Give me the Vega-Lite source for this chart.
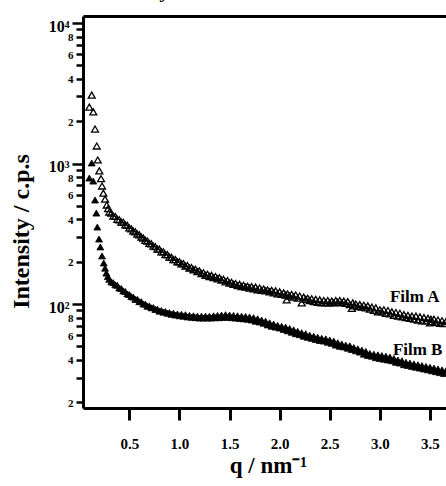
{
  "$schema": "https://vega.github.io/schema/vega-lite/v6.json",
  "width": 363,
  "height": 392,
  "autosize": "none",
  "padding": {"left": 83, "top": 16, "right": 0, "bottom": 78},
  "background": "white",
  "config": {"view": {"stroke": null}, "font": "Liberation Serif"},
  "title": {"text": "about monolayer.", "anchor": "start", "frame": "group", "dx": -43, "dy": 5, "offset": 2, "font": "Liberation Serif", "fontSize": 22, "fontStyle": "italic", "fontWeight": "normal", "color": "black", "baseline": "alphabetic"},
  "datasets": {
    "filmA": [
      {"q":0.101,"I":2520},{"q":0.125,"I":3070},{"q":0.141,"I":2330},{"q":0.158,"I":1760},{"q":0.175,"I":1333},{"q":0.185,"I":1060},{"q":0.201,"I":886},{"q":0.218,"I":780},{"q":0.228,"I":692},{"q":0.241,"I":616},{"q":0.258,"I":558},{"q":0.275,"I":507},{"q":0.288,"I":478},
      {"q":0.30,"I":452},{"q":0.32,"I":444},{"q":0.34,"I":422},{"q":0.36,"I":420},{"q":0.38,"I":401},{"q":0.40,"I":398},{"q":0.42,"I":383},{"q":0.44,"I":382},{"q":0.46,"I":366},{"q":0.48,"I":363},
      {"q":0.50,"I":348},{"q":0.52,"I":343},{"q":0.54,"I":331},{"q":0.56,"I":327},{"q":0.58,"I":315},{"q":0.60,"I":311},{"q":0.62,"I":300},{"q":0.64,"I":295},{"q":0.66,"I":284},{"q":0.68,"I":281},
      {"q":0.70,"I":270},{"q":0.72,"I":268},{"q":0.74,"I":258},{"q":0.76,"I":256},{"q":0.78,"I":246},{"q":0.80,"I":246},{"q":0.82,"I":235},{"q":0.84,"I":235},{"q":0.86,"I":225},{"q":0.88,"I":225},
      {"q":0.90,"I":216},{"q":0.92,"I":215},{"q":0.94,"I":207},{"q":0.96,"I":207},{"q":0.98,"I":200},{"q":1.00,"I":200},{"q":1.02,"I":193},{"q":1.04,"I":194},{"q":1.06,"I":186},{"q":1.08,"I":188},
      {"q":1.10,"I":180},{"q":1.12,"I":182},{"q":1.14,"I":175},{"q":1.16,"I":177},{"q":1.18,"I":170},{"q":1.20,"I":172},{"q":1.22,"I":165},{"q":1.24,"I":167},{"q":1.26,"I":160},{"q":1.28,"I":163},
      {"q":1.30,"I":157},{"q":1.32,"I":160},{"q":1.34,"I":154},{"q":1.36,"I":157},{"q":1.38,"I":151},{"q":1.40,"I":154},{"q":1.42,"I":148},{"q":1.44,"I":150},{"q":1.46,"I":144},{"q":1.48,"I":147},
      {"q":1.50,"I":141},{"q":1.52,"I":143},{"q":1.54,"I":138},{"q":1.56,"I":140},{"q":1.58,"I":135},{"q":1.60,"I":138},{"q":1.62,"I":133},{"q":1.64,"I":136},{"q":1.66,"I":132},{"q":1.68,"I":134},
      {"q":1.70,"I":130},{"q":1.72,"I":133},{"q":1.74,"I":128},{"q":1.76,"I":132},{"q":1.78,"I":126},{"q":1.80,"I":130},{"q":1.82,"I":125},{"q":1.84,"I":128},{"q":1.86,"I":124},{"q":1.88,"I":126},
      {"q":1.90,"I":122},{"q":1.92,"I":125},{"q":1.94,"I":120},{"q":1.96,"I":124},{"q":1.98,"I":118},{"q":2.00,"I":122},{"q":2.02,"I":117},{"q":2.04,"I":120},{"q":2.06,"I":116},{"q":2.07,"I":107},{"q":2.08,"I":118},
      {"q":2.10,"I":114},{"q":2.12,"I":117},{"q":2.14,"I":112},{"q":2.16,"I":116},{"q":2.18,"I":110},{"q":2.20,"I":114},{"q":2.22,"I":102},{"q":2.24,"I":112},{"q":2.26,"I":108},{"q":2.28,"I":110},
      {"q":2.30,"I":106},{"q":2.32,"I":109},{"q":2.34,"I":104},{"q":2.36,"I":108},{"q":2.38,"I":103},{"q":2.40,"I":107},{"q":2.42,"I":102},{"q":2.44,"I":106},{"q":2.46,"I":102},{"q":2.48,"I":106},
      {"q":2.50,"I":102},{"q":2.52,"I":105},{"q":2.54,"I":102},{"q":2.56,"I":106},{"q":2.58,"I":103},{"q":2.60,"I":106},{"q":2.62,"I":102},{"q":2.64,"I":105},{"q":2.66,"I":101},{"q":2.68,"I":104},
      {"q":2.70,"I":99},{"q":2.72,"I":93},{"q":2.73,"I":102},{"q":2.74,"I":97},{"q":2.76,"I":100},{"q":2.78,"I":96},{"q":2.80,"I":99},{"q":2.82,"I":95},{"q":2.84,"I":98},{"q":2.86,"I":94},{"q":2.88,"I":97},
      {"q":2.90,"I":92},{"q":2.92,"I":95},{"q":2.94,"I":90},{"q":2.96,"I":94},{"q":2.98,"I":88},{"q":3.00,"I":91},{"q":3.02,"I":88},{"q":3.04,"I":91},{"q":3.06,"I":86},{"q":3.08,"I":90},
      {"q":3.10,"I":85},{"q":3.12,"I":88},{"q":3.14,"I":83},{"q":3.16,"I":87},{"q":3.18,"I":82},{"q":3.20,"I":86},{"q":3.22,"I":81},{"q":3.24,"I":84},{"q":3.26,"I":80},{"q":3.28,"I":83},
      {"q":3.30,"I":79},{"q":3.32,"I":82},{"q":3.34,"I":78},{"q":3.36,"I":82},{"q":3.38,"I":77},{"q":3.40,"I":81},{"q":3.42,"I":76},{"q":3.44,"I":80},{"q":3.46,"I":76},{"q":3.48,"I":79},
      {"q":3.50,"I":73.5},{"q":3.51,"I":78},{"q":3.52,"I":75},{"q":3.54,"I":78},{"q":3.56,"I":74},{"q":3.58,"I":77},{"q":3.60,"I":73},{"q":3.62,"I":76},{"q":3.64,"I":72.5},{"q":3.66,"I":75}
    ],
    "filmB": [
      {"q":0.101,"I":788},{"q":0.125,"I":1009},{"q":0.140,"I":750},{"q":0.158,"I":550},{"q":0.171,"I":444},{"q":0.181,"I":353},{"q":0.198,"I":290},{"q":0.211,"I":255},{"q":0.228,"I":220},{"q":0.245,"I":196},{"q":0.258,"I":180},{"q":0.271,"I":166},{"q":0.285,"I":157},
      {"q":0.30,"I":150},{"q":0.32,"I":144},{"q":0.34,"I":142},{"q":0.36,"I":137},{"q":0.38,"I":136},{"q":0.40,"I":130},{"q":0.42,"I":129},{"q":0.44,"I":124},{"q":0.46,"I":123},{"q":0.48,"I":118},
      {"q":0.50,"I":117},{"q":0.52,"I":113},{"q":0.54,"I":112},{"q":0.56,"I":108},{"q":0.58,"I":108},{"q":0.60,"I":104},{"q":0.62,"I":104},{"q":0.64,"I":100},{"q":0.66,"I":100},{"q":0.68,"I":96.5},
      {"q":0.70,"I":97},{"q":0.72,"I":94},{"q":0.74,"I":94.5},{"q":0.76,"I":91.5},{"q":0.78,"I":92},{"q":0.80,"I":89},{"q":0.82,"I":90},{"q":0.84,"I":87.5},{"q":0.86,"I":88.5},{"q":0.88,"I":86},
      {"q":0.90,"I":87},{"q":0.92,"I":84.5},{"q":0.94,"I":86},{"q":0.96,"I":83.5},{"q":0.98,"I":85},{"q":1.00,"I":82.5},{"q":1.02,"I":84.5},{"q":1.04,"I":82},{"q":1.06,"I":84},{"q":1.08,"I":81},
      {"q":1.10,"I":83},{"q":1.12,"I":80.5},{"q":1.14,"I":82.5},{"q":1.16,"I":80},{"q":1.18,"I":82},{"q":1.20,"I":79.5},{"q":1.22,"I":82},{"q":1.24,"I":79.5},{"q":1.26,"I":82},{"q":1.28,"I":79.5},
      {"q":1.30,"I":82},{"q":1.32,"I":79.5},{"q":1.34,"I":82.5},{"q":1.36,"I":80},{"q":1.38,"I":83},{"q":1.40,"I":80},{"q":1.42,"I":83.5},{"q":1.44,"I":80.5},{"q":1.46,"I":84},{"q":1.48,"I":80.5},
      {"q":1.50,"I":83.5},{"q":1.52,"I":80},{"q":1.54,"I":83},{"q":1.56,"I":79.5},{"q":1.58,"I":82.5},{"q":1.60,"I":79},{"q":1.62,"I":82},{"q":1.64,"I":78.5},{"q":1.66,"I":81.5},{"q":1.68,"I":78},
      {"q":1.70,"I":81},{"q":1.72,"I":77},{"q":1.74,"I":80},{"q":1.76,"I":75.5},{"q":1.78,"I":78.5},{"q":1.80,"I":74.5},{"q":1.82,"I":77},{"q":1.84,"I":73},{"q":1.86,"I":75.5},{"q":1.88,"I":71},
      {"q":1.90,"I":73.5},{"q":1.92,"I":69.5},{"q":1.94,"I":72},{"q":1.96,"I":68.5},{"q":1.98,"I":70.5},{"q":2.00,"I":67.5},{"q":2.02,"I":69.5},{"q":2.04,"I":66},{"q":2.06,"I":68.5},{"q":2.08,"I":64.5},
      {"q":2.10,"I":67},{"q":2.12,"I":63},{"q":2.14,"I":65.5},{"q":2.16,"I":61.5},{"q":2.18,"I":64},{"q":2.20,"I":60.5},{"q":2.22,"I":62.5},{"q":2.24,"I":59},{"q":2.26,"I":61.5},{"q":2.28,"I":58},
      {"q":2.30,"I":60},{"q":2.32,"I":57},{"q":2.34,"I":59},{"q":2.36,"I":56},{"q":2.38,"I":58},{"q":2.40,"I":55},{"q":2.42,"I":57},{"q":2.44,"I":54.5},{"q":2.46,"I":56.5},{"q":2.48,"I":53.5},
      {"q":2.50,"I":55.5},{"q":2.52,"I":52.5},{"q":2.54,"I":54.5},{"q":2.56,"I":51},{"q":2.58,"I":53},{"q":2.60,"I":50},{"q":2.62,"I":52},{"q":2.64,"I":49.5},{"q":2.66,"I":51},{"q":2.68,"I":48.5},
      {"q":2.70,"I":50.5},{"q":2.72,"I":47.5},{"q":2.74,"I":49},{"q":2.76,"I":46.5},{"q":2.78,"I":48},{"q":2.80,"I":45.5},{"q":2.82,"I":47},{"q":2.84,"I":44},{"q":2.86,"I":46},{"q":2.88,"I":43},
      {"q":2.90,"I":44.5},{"q":2.92,"I":42.5},{"q":2.94,"I":44},{"q":2.96,"I":41.5},{"q":2.98,"I":43.5},{"q":3.00,"I":41},{"q":3.02,"I":43},{"q":3.04,"I":40.5},{"q":3.06,"I":42.5},{"q":3.08,"I":40},
      {"q":3.10,"I":42},{"q":3.12,"I":39.5},{"q":3.14,"I":41},{"q":3.16,"I":38.5},{"q":3.18,"I":40},{"q":3.20,"I":38},{"q":3.22,"I":39.5},{"q":3.24,"I":37},{"q":3.26,"I":38.5},{"q":3.28,"I":36.5},
      {"q":3.30,"I":38},{"q":3.32,"I":36},{"q":3.34,"I":37.5},{"q":3.36,"I":35.5},{"q":3.38,"I":37},{"q":3.40,"I":35},{"q":3.42,"I":36.5},{"q":3.44,"I":34.5},{"q":3.46,"I":36},{"q":3.48,"I":34},
      {"q":3.50,"I":35.5},{"q":3.52,"I":33.5},{"q":3.54,"I":35},{"q":3.56,"I":33},{"q":3.58,"I":34.5},{"q":3.60,"I":32.5},{"q":3.62,"I":34},{"q":3.64,"I":32},{"q":3.66,"I":33.5}
    ],
    "labels": [
      {"q":3.10,"I":103,"t":"Film A"},
      {"q":3.13,"I":43.4,"t":"Film B"}
    ]
  },
  "layer": [
    {
      "data": {"name": "filmA"},
      "mark": {"type": "point", "shape": "triangle-up", "filled": false, "stroke": "black", "strokeWidth": 1.3, "size": 48, "opacity": 1},
      "encoding": {
        "x": {"field": "q", "type": "quantitative",
          "scale": {"domain": [0.038, 3.66], "nice": false, "zero": false},
          "axis": {"orient": "bottom", "values": [0.5,1,1.5,2,2.5,3,3.5], "format": ".1f",
            "labelFont": "Liberation Serif", "labelFontWeight": "bold", "labelFontSize": 15, "labelColor": "black",
            "labelPadding": 16, "labelFlush": false, "tickSize": 12, "tickWidth": 3, "tickColor": "black",
            "domainWidth": 3, "domainColor": "black", "grid": false,
            "title": "q / nm⁻¹", "titleFont": "Liberation Serif", "titleFontSize": 23, "titleFontWeight": "bold", "titleColor": "black",
            "titleX": 185, "titleY": 64, "titleAlign": "center", "titleBaseline": "alphabetic"}},
        "y": {"field": "I", "type": "quantitative",
          "scale": {"type": "log", "domain": [18.2, 11220], "nice": false},
          "axis": {"orient": "left",
            "values": [20,30,40,50,60,70,80,90,100,200,300,400,500,600,700,800,900,1000,2000,3000,4000,5000,6000,7000,8000,9000,10000],
            "labelExpr": "datum.value == 10000 ? '10⁴' : (datum.value == 1000 ? '10³' : (datum.value == 100 ? '10²' : ((datum.value < 100 ? datum.value/10 : (datum.value < 1000 ? datum.value/100 : datum.value/1000)) % 2 == 0 ? toString(datum.value < 100 ? datum.value/10 : (datum.value < 1000 ? datum.value/100 : datum.value/1000)) : '')))",
            "labelFont": "Liberation Serif", "labelFontWeight": "bold", "labelColor": "black",
            "labelFontSize": {"condition": {"test": "datum.value == 100 || datum.value == 1000 || datum.value == 10000", "value": 16}, "value": 11},
            "labelOffset": {"condition": {"test": "datum.value == 100 || datum.value == 1000 || datum.value == 10000", "value": 3}, "value": 1},
            "tickSize": {"condition": {"test": "datum.value == 100 || datum.value == 1000 || datum.value == 10000", "value": 11}, "value": 7},
            "labelPadding": 3, "labelOverlap": false, "labelFlush": false, "labelBaseline": "middle",
            "tickWidth": 2.5, "tickColor": "black", "domainWidth": 3, "domainColor": "black", "grid": false,
            "title": "Intensity / c.p.s", "titleFont": "Liberation Serif", "titleFontSize": 24, "titleFontWeight": "bold", "titleColor": "black",
            "titleX": -55, "titleY": 215, "titleAlign": "center", "titleBaseline": "alphabetic", "titleAngle": -90}}
      }
    },
    {
      "data": {"name": "filmB"},
      "mark": {"type": "point", "shape": "triangle-up", "filled": true, "fill": "black", "stroke": "black", "strokeWidth": 0.8, "size": 48, "opacity": 1},
      "encoding": {
        "x": {"field": "q", "type": "quantitative",
          "axis": {"orient": "top", "labels": false, "ticks": false, "domain": true, "domainWidth": 3, "domainColor": "black", "grid": false, "title": null}},
        "y": {"field": "I", "type": "quantitative"}
      }
    },
    {
      "data": {"name": "labels"},
      "mark": {"type": "text", "align": "left", "baseline": "alphabetic", "font": "Liberation Serif", "fontWeight": "bold", "fontSize": 17, "color": "black"},
      "encoding": {
        "x": {"field": "q", "type": "quantitative", "axis": null},
        "y": {"field": "I", "type": "quantitative"},
        "text": {"field": "t"}
      }
    }
  ],
  "resolve": {"axis": {"x": "independent"}}
}
